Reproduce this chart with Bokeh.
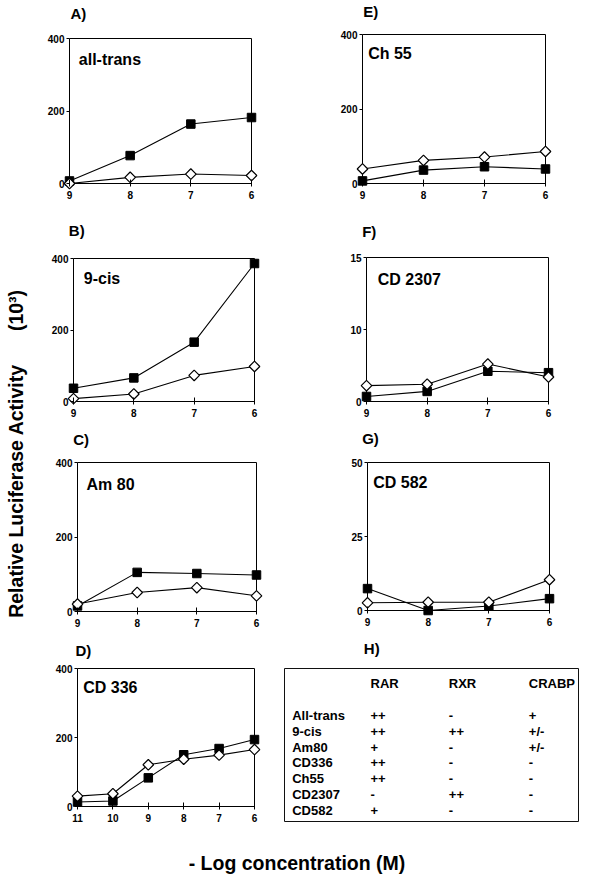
import math
from bokeh.plotting import figure
from bokeh.models import Range1d, LinearAxis, FixedTicker, ColumnDataSource
from bokeh.embed import file_html
from bokeh.resources import INLINE
from bokeh.core.properties import value

FONT = "Liberation Sans"

# ---------------- data ----------------
conc_short = [9, 8, 7, 6]
conc_long = [11, 10, 9, 8, 7, 6]

alltrans_square = [7, 77, 164, 182]
alltrans_diamond = [0, 17, 26, 22]
cis9_square = [37, 66, 166, 386]
cis9_diamond = [8, 21, 73, 98]
am80_square = [15, 105, 102, 98]
am80_diamond = [20, 51, 64, 42]
cd336_square = [13, 16, 83, 150, 168, 194]
cd336_diamond = [30, 37, 121, 137, 149, 165]
ch55_square = [7, 36, 45, 39]
ch55_diamond = [39, 62, 71, 86]
cd2307_square = [0.7, 1.4, 4.2, 4.0]
cd2307_diamond = [2.2, 2.4, 5.2, 3.4]
cd582_square = [7.4, 0, 1.5, 4.0]
cd582_diamond = [2.6, 2.8, 2.8, 10.4]

yticks_400 = [0, 200, 400]
ylabels_400 = ["0", "200", "400"]
yticks_cd2307 = [0, 10, 20]
ylabels_cd2307 = ["0", "10", "15"]
yticks_cd582 = [0, 25, 50]
ylabels_cd582 = ["0", "25", "50"]

panel_letters = ["A)", "B)", "C)", "D)", "E)", "F)", "G)", "H)"]
compound_titles = ["all-trans", "9-cis", "Am 80", "CD 336", "Ch 55", "CD 2307", "CD 582"]

table_headers = ["RAR", "RXR", "CRABP"]
table_compounds = ["All-trans", "9-cis", "Am80", "CD336", "Ch55", "CD2307", "CD582"]
table_rar = ["++", "++", "+", "++", "++", "-", "+"]
table_rxr = ["-", "++", "-", "-", "-", "++", "-"]
table_crabp = ["+", "+/-", "+/-", "-", "-", "-", "-"]

y_title = "Relative Luciferase Activity"
y_unit = "(10\u00b3)"
x_title = "- Log concentration (M)"

# ---------------- page layout (pixels from top-left) ----------------
W, H = 588, 876

p = figure(width=W, height=H, x_range=Range1d(0, W), y_range=Range1d(0, H),
           output_backend="svg", toolbar_location=None,
           x_axis_location=None, y_axis_location=None, title=None,
           min_border_left=0, min_border_right=0, min_border_top=0, min_border_bottom=0)
p.outline_line_color = None
p.grid.grid_line_color = None
p.background_fill_color = "white"
p.border_fill_color = "white"


def Y(py):
    return H - py


def style_axis(ax):
    ax.axis_line_color = None
    ax.major_tick_line_color = "black"
    ax.major_tick_line_width = 1
    ax.minor_tick_line_color = None
    ax.major_label_text_font = FONT
    ax.major_label_text_font_style = "bold"
    ax.major_label_text_font_size = "10px"
    ax.major_label_text_color = "black"


def add_panel(name, box, xs, yticks, ylabels, sq, dia):
    L, R, T, B = box
    x_left, x_right = xs[0], xs[-1]
    ylo, yhi = yticks[0], yticks[-1]
    ux = (x_right - x_left) / (R - L)
    uy = (yhi - ylo) / (B - T)
    p.extra_x_ranges[name] = Range1d(x_left - L * ux, x_left + (W - L) * ux)
    p.extra_y_ranges[name] = Range1d(ylo + (B - H) * uy, ylo + B * uy)
    kw = dict(x_range_name=name, y_range_name=name)

    p.quad(left=[x_left], right=[x_right], bottom=[ylo], top=[yhi],
           fill_color=None, line_color="black", line_width=1, **kw)
    p.line(xs, sq, line_color="black", line_width=1.1, **kw)
    p.line(xs, dia, line_color="black", line_width=1.1, **kw)
    p.scatter(xs, sq, marker="square", size=8.5, fill_color="black",
              line_color="black", **kw)
    p.scatter(xs, dia, marker="square", angle=math.pi / 4, size=7.5,
              fill_color="white", line_color="black", line_width=1.2, **kw)

    yax = LinearAxis(fixed_location=x_left, ticker=FixedTicker(ticks=yticks),
                     major_label_overrides={t: s for t, s in zip(yticks, ylabels)}, **kw)
    style_axis(yax)
    yax.major_tick_in = 0
    yax.major_tick_out = 3
    yax.major_label_standoff = 2
    p.add_layout(yax, "left")

    xax = LinearAxis(fixed_location=ylo, ticker=FixedTicker(ticks=xs), **kw)
    style_axis(xax)
    xax.major_tick_in = 4
    xax.major_tick_out = 3
    xax.major_label_standoff = 4
    p.add_layout(xax, "below")


add_panel("A", (69, 251, 38, 183), conc_short, yticks_400, ylabels_400,
          alltrans_square, alltrans_diamond)
add_panel("B", (73, 254, 258, 401), conc_short, yticks_400, ylabels_400,
          cis9_square, cis9_diamond)
add_panel("C", (77, 256, 462, 611), conc_short, yticks_400, ylabels_400,
          am80_square, am80_diamond)
add_panel("D", (77, 254, 668, 806), conc_long, yticks_400, ylabels_400,
          cd336_square, cd336_diamond)
add_panel("E", (362, 545, 34, 183), conc_short, yticks_400, ylabels_400,
          ch55_square, ch55_diamond)
add_panel("F", (366, 548, 257, 401), conc_short, yticks_cd2307, ylabels_cd2307,
          cd2307_square, cd2307_diamond)
add_panel("G", (367, 549, 462, 610), conc_short, yticks_cd582, ylabels_cd582,
          cd582_square, cd582_diamond)

TEXT = dict(text_font=value(FONT), text_font_style="bold", text_baseline="middle",
            text_color="black")

# ---------------- panel letters & compound names ----------------
letter_pos = [(70, 13.3), (68.3, 230), (72.7, 439), (75, 650),
              (362.7, 10.5), (361.7, 230.5), (361.7, 438), (363.3, 648)]
lsrc = ColumnDataSource(dict(x=[a for a, b in letter_pos],
                             y=[Y(b) for a, b in letter_pos], t=panel_letters))
p.text(x="x", y="y", text="t", source=lsrc, text_font_size="15px", text_align="left", **TEXT)

name_pos = [(78.3, 58.5), (83.3, 278.3), (86, 484), (82.7, 687.3),
            (367.7, 52.5), (377.3, 279), (372.7, 481.7)]
nsrc = ColumnDataSource(dict(x=[a for a, b in name_pos],
                             y=[Y(b) for a, b in name_pos], t=compound_titles))
p.text(x="x", y="y", text="t", source=nsrc, text_font_size="16px", text_align="left", **TEXT)

# ---------------- table H ----------------
HL, HR, HT, HB = 284, 578, 668, 821
p.quad(left=[HL], right=[HR], bottom=[Y(HB)], top=[Y(HT)], fill_color=None,
       line_color="#111111", line_width=1)

col_x = [370, 448.3, 528.3]
name_x = 291.7
header_y = 683.3
row_y0 = 715
row_dy = 15.83

hsrc = ColumnDataSource(dict(x=col_x, y=[Y(header_y)] * 3, t=table_headers))
p.text(x="x", y="y", text="t", source=hsrc, text_font_size="13px", text_align="left", **TEXT)

rows_y = [Y(row_y0 + i * row_dy) for i in range(len(table_compounds))]
xs_all, ys_all, ts_all = [], [], []
for colx, vals in zip([name_x] + col_x, [table_compounds, table_rar, table_rxr, table_crabp]):
    for yv, t in zip(rows_y, vals):
        xs_all.append(colx)
        ys_all.append(yv)
        ts_all.append(t)
tsrc = ColumnDataSource(dict(x=xs_all, y=ys_all, t=ts_all))
p.text(x="x", y="y", text="t", source=tsrc, text_font_size="13px", text_align="left", **TEXT)

# ---------------- axis titles ----------------
ysrc = ColumnDataSource(dict(x=[15, 15], y=[Y(490.5), Y(310)], t=[y_title, y_unit]))
p.text(x="x", y="y", text="t", source=ysrc, angle=math.pi / 2, text_font_size="19.5px",
       text_align="center", **TEXT)

xsrc = ColumnDataSource(dict(x=[296.5], y=[Y(862)], t=[x_title]))
p.text(x="x", y="y", text="t", source=xsrc, text_font_size="19.5px", text_align="center", **TEXT)

open("out.html", "w").write(file_html(p, INLINE))
